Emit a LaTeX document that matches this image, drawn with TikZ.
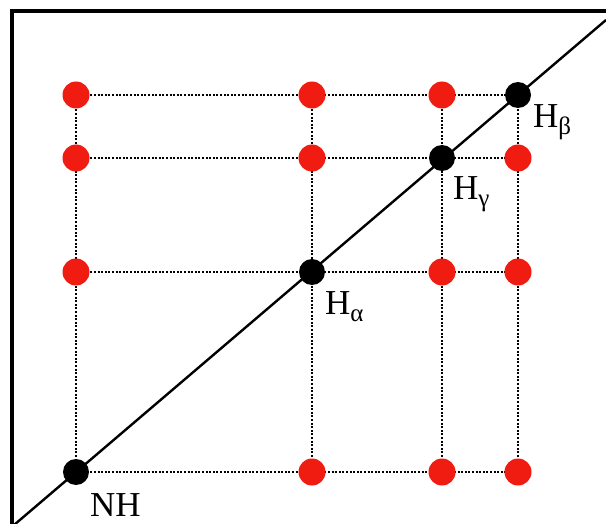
\documentclass[tikz,border=0pt]{standalone}
\usepackage{fontspec}
\setmainfont{Liberation Serif}
\definecolor{dotred}{RGB}{240,28,18}
\newcommand{\mysub}[1]{\raisebox{-0.2em}{\fontsize{25}{27}\selectfont #1}}
\begin{document}
\begin{tikzpicture}[x=1pt,y=-1pt,
  reddot/.style={circle,fill=dotred,draw=none,minimum size=27pt,inner sep=0pt},
  blackdot/.style={circle,fill=black,draw=none,minimum size=26pt,inner sep=0pt},
  gridline/.style={line width=2.4pt,dash pattern=on 2pt off 1.6pt},
  lbl/.style={anchor=base west,inner sep=0pt,font=\fontsize{35}{40}\selectfont}]
\useasboundingbox (0,0) rectangle (606,524);
% frame
\draw[line width=4pt] (12,530) -- (12,11.5) -- (612,11.5);
% grid coordinates
\foreach \c/\x in {a/76,b/312,c/442,d/518}{
  \foreach \r/\y in {1/95,2/158,3/272,4/472}{
    \coordinate (\c\r) at (\x,\y);
  }
}
% dotted grid
\foreach \r in {1,2,3,4}{ \draw[gridline] (a\r) -- (d\r); }
\foreach \c in {a,b,c,d}{ \draw[gridline] (\c1) -- (\c4); }
% diagonal
\coordinate (dstart) at (14,525);
\coordinate (dend) at (606,20);
\draw[line width=2.4pt] (dstart) -- (dend);
% red dots
\foreach \p in {a1,b1,c1,a2,b2,d2,a3,c3,d3,b4,c4,d4}{
  \node[reddot] (n\p) at (\p) {};
}
% black dots
\node[blackdot] (NH) at (a4) {};
\node[blackdot] (Ha) at (b3) {};
\node[blackdot] (Hg) at (c2) {};
\node[blackdot] (Hb) at (d1) {};
% labels
\node[lbl] (lNH) at (90,516) {NH};
\node[lbl] (lHa) at (325,315) {H\mysub{α}};
\node[lbl] (lHg) at (453,200) {H\mysub{γ}};
\node[lbl] (lHb) at (533,128) {H\mysub{β}};
\end{tikzpicture}
\end{document}
